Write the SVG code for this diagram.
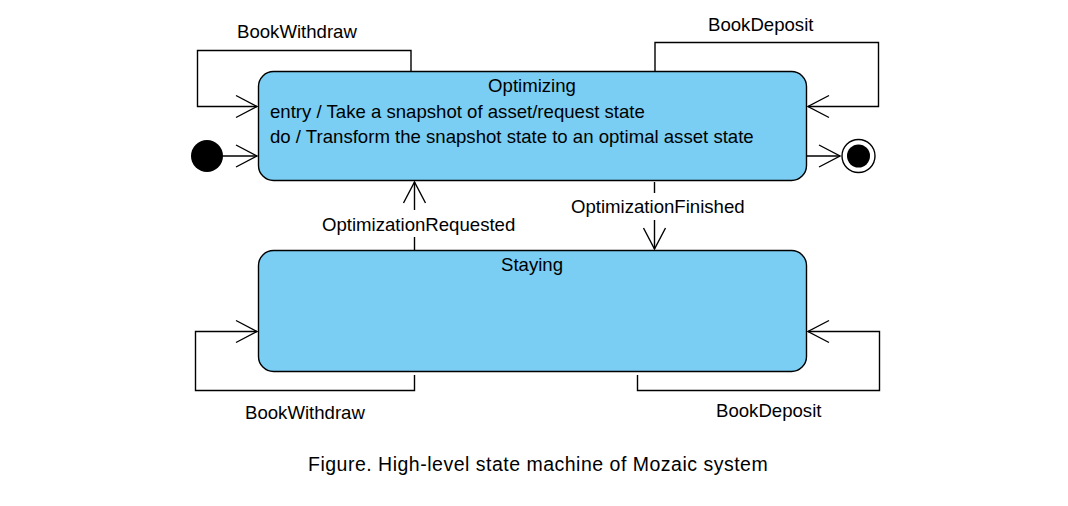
<svg xmlns="http://www.w3.org/2000/svg" width="1068" height="506" viewBox="0 0 1068 506">
<defs>
<marker id="arr" markerUnits="userSpaceOnUse" markerWidth="24" markerHeight="26" viewBox="-22 -12 24 24" refX="0" refY="0" orient="auto">
<path d="M-21,-11 L0,0 L-21,11" fill="none" stroke="#000" stroke-width="1.4"/>
</marker>
<style>
.st{fill:#7ACEF4;stroke:#000;stroke-width:1.4}
.ln{fill:none;stroke:#000;stroke-width:1.4}
.t{font-family:"Liberation Sans",Arial,sans-serif;font-size:18.6px;fill:#000}
.c{text-anchor:middle}
</style>
</defs>
<rect width="1068" height="506" fill="#fff"/>
<g id="connectors">
<polyline class="ln" points="411,71 411,50.5 197.5,50.5 197.5,106.5 257,106.5" marker-end="url(#arr)"/>
<polyline class="ln" points="655,71 655,42.5 878.5,42.5 878.5,106.5 808,106.5" marker-end="url(#arr)"/>
<line class="ln" x1="223" y1="156" x2="257" y2="156" marker-end="url(#arr)"/>
<line class="ln" x1="806" y1="156" x2="840" y2="156" marker-end="url(#arr)"/>
<line class="ln" x1="414.5" y1="250" x2="414.5" y2="237"/>
<line class="ln" x1="414.5" y1="210" x2="414.5" y2="182" marker-end="url(#arr)"/>
<line class="ln" x1="654.5" y1="182" x2="654.5" y2="193"/>
<line class="ln" x1="654.5" y1="220" x2="654.5" y2="249" marker-end="url(#arr)"/>
<polyline class="ln" points="414.5,375 414.5,390.5 195.5,390.5 195.5,331.5 257,331.5" marker-end="url(#arr)"/>
<polyline class="ln" points="637.5,375 637.5,390.5 879.5,390.5 879.5,331.5 808,331.5" marker-end="url(#arr)"/>
<text class="t" x="237" y="38">BookWithdraw</text>
<text class="t" x="708" y="31">BookDeposit</text>
<text class="t" x="322" y="231">OptimizationRequested</text>
<text class="t" x="571" y="213">OptimizationFinished</text>
<text class="t" x="245" y="419">BookWithdraw</text>
<text class="t" x="716" y="417">BookDeposit</text>
</g>
<g id="initial">
<circle cx="207" cy="156" r="16" fill="#000"/>
</g>
<g id="final">
<circle cx="858.5" cy="156" r="16.5" fill="#fff" stroke="#000" stroke-width="1.4"/>
<circle cx="858.5" cy="156" r="11.5" fill="#000"/>
</g>
<g id="optimizing">
<rect class="st" x="258.5" y="71.5" width="548" height="109" rx="15" ry="15"/>
<text class="t c" x="532" y="92">Optimizing</text>
<text class="t" x="270" y="118">entry / Take a snapshot of asset/request state</text>
<text class="t" x="270" y="143">do / Transform the snapshot state to an optimal asset state</text>
</g>
<g id="staying">
<rect class="st" x="258.5" y="250.5" width="548" height="121" rx="15" ry="15"/>
<text class="t c" x="532" y="271">Staying</text>
</g>
<text class="t" x="308" y="471" style="font-size:19.5px;letter-spacing:0.5px">Figure. High-level state machine of Mozaic system</text>
</svg>
